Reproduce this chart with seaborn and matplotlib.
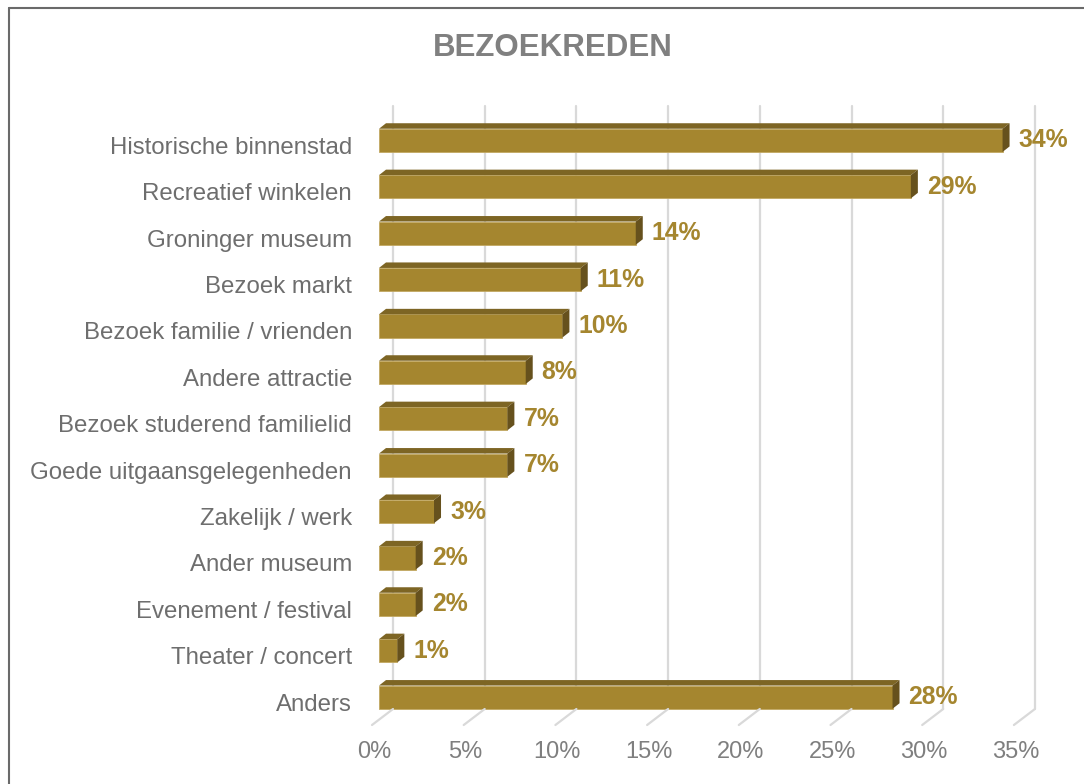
import matplotlib
matplotlib.use("Agg")
import matplotlib.pyplot as plt
import seaborn as sns
import pandas as pd
from matplotlib.patches import Polygon
from matplotlib.lines import Line2D
from matplotlib.transforms import ScaledTranslation, blended_transform_factory

# data
categories = ["Historische binnenstad", "Recreatief winkelen", "Groninger museum",
              "Bezoek markt", "Bezoek familie / vrienden", "Andere attractie",
              "Bezoek studerend familielid", "Goede uitgaansgelegenheden",
              "Zakelijk / werk", "Ander museum", "Evenement / festival",
              "Theater / concert", "Anders"]
values = [34, 29, 14, 11, 10, 8, 7, 7, 3, 2, 2, 1, 28]
xticks = [0, 5, 10, 15, 20, 25, 30, 35]

df = pd.DataFrame({"reden": categories, "pct": values})

sns.set_style("white")
plt.rcParams["font.family"] = ["Liberation Sans", "DejaVu Sans"]

W, H = 1084, 784
fig = plt.figure(figsize=(W / 100, H / 100), dpi=100)
# axes: x=0 at bar front face (379px), y from 106px to 725px
ax = fig.add_axes([379 / W, (H - 725) / H, 35 * 18.34 / W, 619 / H])

front = "#A5862F"
top_c = "#7D6524"
side_c = "#66511D"
grid_c = "#D9D9D9"
text_c = "#6E6E6E"

sns.barplot(data=df, x="pct", y="reden", orient="h", color=front, saturation=1,
            width=0.5, ax=ax, edgecolor="#C2A862", linewidth=0.6, zorder=3)
ax.set_xlim(0, 35)
ax.set_ylim(12.6, -0.74)
ax.set_xlabel("")
ax.set_ylabel("")
ax.set_xticks([])
for s in ax.spines.values():
    s.set_visible(False)

def px(dx, dy):
    return ScaledTranslation(dx / 100, dy / 100, fig.dpi_scale_trans)

# pixel -> data unit conversion
p0 = ax.transData.transform((0, 0))
p1 = ax.transData.transform((1, 1))
ux = p1[0] - p0[0]
uy = p0[1] - p1[1]
dx, dy = 7 / ux, 5.5 / uy

# 3d top and side faces
for p in list(ax.patches):
    x0, y0 = p.get_x(), p.get_y()
    w, h = p.get_width(), p.get_height()
    ytop, ybot = y0, y0 + h
    ax.add_patch(Polygon([(x0, ytop), (x0 + w, ytop), (x0 + w + dx, ytop - dy), (x0 + dx, ytop - dy)],
                         closed=True, facecolor=top_c, edgecolor="none", zorder=3))
    ax.add_patch(Polygon([(x0 + w, ytop), (x0 + w + dx, ytop - dy), (x0 + w + dx, ybot - dy), (x0 + w, ybot)],
                         closed=True, facecolor=side_c, edgecolor="none", zorder=3))

# gridlines on back wall + floor diagonals
bt = blended_transform_factory(ax.transData, ax.transAxes)
for t in xticks:
    ax.add_line(Line2D([t, t], [16 / 619, 1.0], color=grid_c, lw=1.6,
                       transform=bt + px(14, 0), zorder=1, clip_on=False))
    xa = ax.transData.transform((t, 0))[0]
    yb = ax.transAxes.transform((0, 0))[1]
    fig.add_artist(Line2D([(xa - 7) / W, (xa + 14) / W], [yb / H, (yb + 16) / H],
                          color=grid_c, lw=1.6, transform=fig.transFigure, zorder=1))

# x tick labels on the front plane
for t in xticks:
    ax.text(t, 0, f"{t}%", transform=bt + px(-5, -27), ha="center", va="center",
            fontsize=17, color="#7F7F7F")

# y tick labels
ax.tick_params(axis="y", length=0, pad=19.5, labelsize=17.3, labelcolor=text_c)
for lab in ax.get_yticklabels():
    lab.set_transform(lab.get_transform() + px(0, -5))

# value labels
for i, v in enumerate(values):
    ax.text(v, i, f"{v}%", transform=ax.transData + px(16, 0), ha="left", va="center",
            fontsize=17.8, fontweight="bold", color=front, zorder=4)

fig.text(553 / W, 1 - 48 / H, "BEZOEKREDEN", ha="center", va="center",
         fontsize=22.5, fontweight="bold", color="#808080")

# outer border
fig.add_artist(Line2D([8.5 / W, 8.5 / W], [0, 1 - 7.5 / H], color="#6A6A6A", lw=1.5,
                      transform=fig.transFigure))
fig.add_artist(Line2D([8.5 / W, 1], [1 - 7.5 / H, 1 - 7.5 / H], color="#6A6A6A", lw=1.5,
                      transform=fig.transFigure))

fig.savefig("out.png", dpi=100)
